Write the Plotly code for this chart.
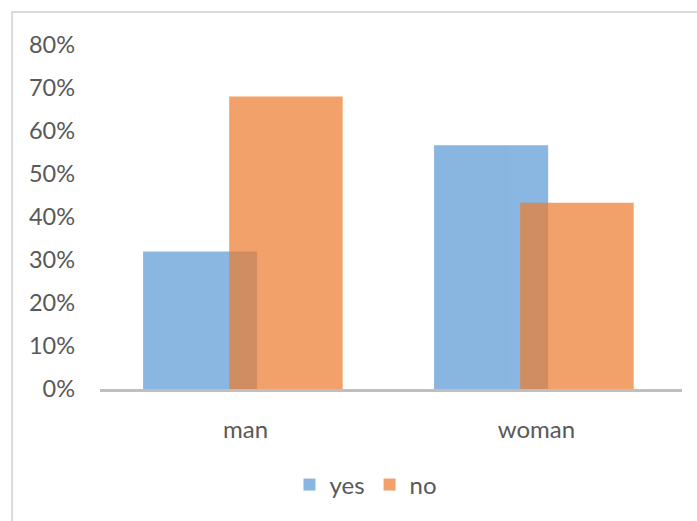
import plotly.graph_objects as go

categories = ["man", "woman"]
yes_values = [0.32, 0.567]
no_values = [0.68, 0.433]
tick_vals = [0, 0.1, 0.2, 0.3, 0.4, 0.5, 0.6, 0.7, 0.8]
tick_text = ["0%", "10%", "20%", "30%", "40%", "50%", "60%", "70%", "80%"]

FONT = "Lato, 'Open Sans', sans-serif"
GRAY = "#595959"

fig = go.Figure()
fig.add_trace(go.Bar(
    x=categories, y=yes_values, name="yes",
    marker=dict(color="#5B9BD5", line=dict(width=0)),
    opacity=0.72, width=0.392, offset=-0.352,
))
fig.add_trace(go.Bar(
    x=categories, y=no_values, name="no",
    marker=dict(color="#ED7D31", line=dict(width=0)),
    opacity=0.72, width=0.39, offset=-0.056,
))

fig.update_layout(
    width=697, height=521,
    barmode="overlay",
    paper_bgcolor="white", plot_bgcolor="white",
    margin=dict(l=100, r=15, t=45, b=132),
    font=dict(family=FONT, size=24, color=GRAY),
    showlegend=True,
    legend=dict(orientation="h", x=0.457, xanchor="center", y=-0.279, yanchor="middle",
                font=dict(family=FONT, size=24, color=GRAY), itemwidth=30,
                traceorder="normal", bgcolor="rgba(0,0,0,0)"),
    xaxis=dict(showline=True, linecolor="#BFBFBF", linewidth=2.5, showgrid=False,
               ticks="", ticklabelstandoff=17, range=[-0.5, 1.5],
               tickfont=dict(family=FONT, size=24, color=GRAY)),
    yaxis=dict(range=[0, 0.8], tickvals=tick_vals, ticktext=tick_text,
               showgrid=False, zeroline=False, showline=False, ticks="",
               ticklabelstandoff=24,
               tickfont=dict(family=FONT, size=23.5, color=GRAY)),
    shapes=[dict(type="rect", xref="paper", yref="paper",
                 x0=-0.151, x1=1.2, y0=-0.6, y1=1.096,
                 line=dict(color="#D9D9D9", width=2), layer="below")],
)

fig.write_html("out.html")
